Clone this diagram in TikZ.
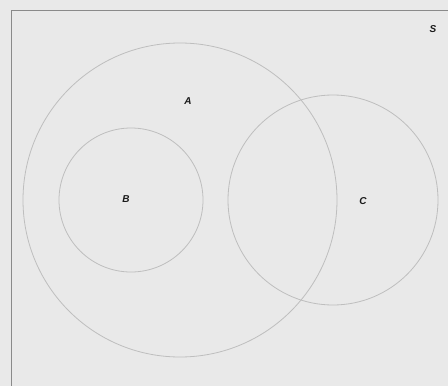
\documentclass[tikz,border=0pt]{standalone}
\usepackage{fontspec}
\setmainfont{Liberation Sans}
\usepackage{xcolor}
\usepackage{tikz}
\usetikzlibrary{positioning}
\definecolor{paper}{HTML}{E9E9E9}
\definecolor{rim}{HTML}{BEBEBE}
\definecolor{frame}{HTML}{8A8A8A}
\definecolor{ink}{HTML}{1A1A1A}
\tikzset{
  setc/.style={draw=rim,line width=0.8pt,circle,inner sep=0pt},
  setlbl/.style={font=\itshape\bfseries\fontsize{10}{12}\selectfont,text=ink,inner sep=0pt},
  border/.style={draw=frame,line width=0.7pt}
}
\begin{document}
\begin{tikzpicture}[x=1pt,y=-1pt]
  \fill[paper] (0,0) rectangle (448,386);
  \useasboundingbox (0,0) rectangle (448,386);
  \coordinate (tl) at (11,10);
  \coordinate (tr) at (448,10);
  \coordinate (bl) at (11,386);
  \draw[border] (tr) -- (tl) -- (bl);
  \node[setc,minimum size=314pt] (A) at (180,200) {};
  \node[setc,minimum size=144pt] (B) at (131,200) {};
  \node[setc,minimum size=210pt] (C) at (333,200) {};
  \node[setlbl] (labS) at (433,29) {S};
  \node[setlbl] (labA) at (188,101) {A};
  \node[setlbl] (labB) at (126,199) {B};
  \node[setlbl] (labC) at (363,201) {C};
\end{tikzpicture}
\end{document}
